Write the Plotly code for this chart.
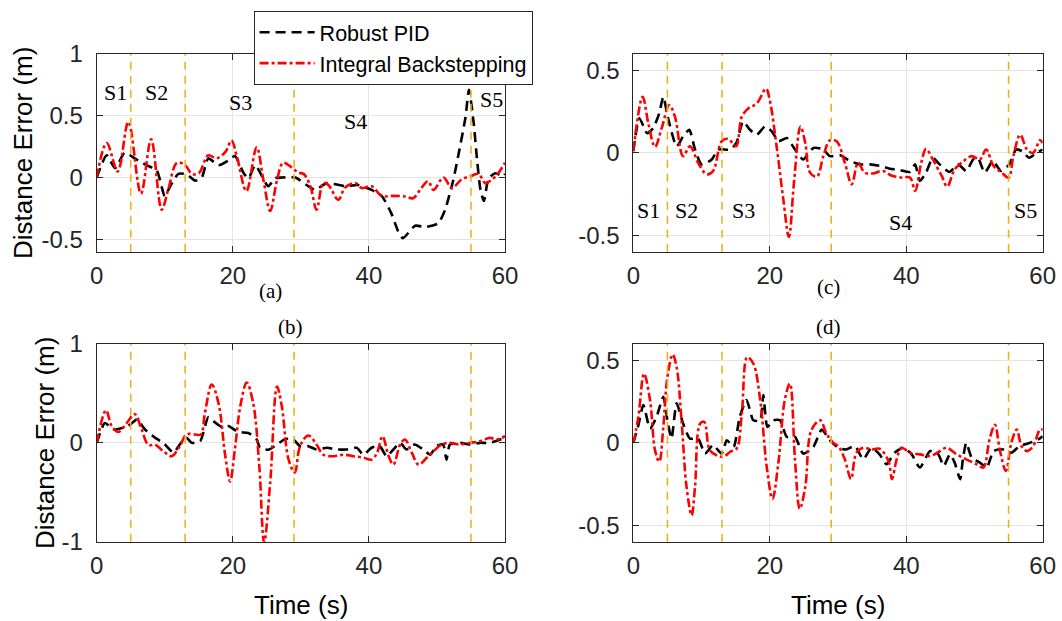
import plotly.graph_objects as go

# ---------------- data (time s, distance error m) ----------------
stage_bounds = [5, 13, 29, 55]
stage_names = ["S1", "S2", "S3", "S4", "S5"]

a_pid = [(0,0),(1.47,0.18),(2.7,0.075),(4.1,0.2),(5.6,0.155),(7.3,0.10),(8.8,0.06),(10.0,-0.15),(10.8,-0.07),(12.0,0.03),
         (13.2,0.027),(14.45,-0.025),(15.4,-0.005),(16.4,0.155),(17.9,0.10),(19.4,0.14),(20.3,0.175),(21.6,0.035),(22.3,-0.005),(23.3,0.10),
         (24.3,0.01),(25.2,-0.07),(26.2,-0.005),(27.2,0),(29.2,0),(31.1,-0.07),(32.1,-0.1),(33.8,-0.045),(36.5,-0.07),(38.4,-0.06),
         (40.4,-0.1),(41.9,-0.15),(43.3,-0.29),(44.3,-0.435),(45.0,-0.49),(46.8,-0.39),(48.3,-0.40),(50.2,-0.37),(51.2,-0.26),(52.4,-0.02),
         (53.2,0.196),(54.2,0.49),(54.7,0.71),(55.4,0.44),(55.9,0.14),(56.4,-0.1),(56.9,-0.19),(57.6,-0.005),(58.6,0.035),(59.8,0.01),(60,0.03)]
a_ibs = [(0,0),(1.47,0.28),(3.08,0.05),(4.65,0.45),(6.5,-0.13),(8.0,0.31),(9.55,-0.26),(10.5,-0.1),(11.8,0.12),(13.0,0.10),
         (14.0,0.03),(15.0,0.035),(16.4,0.18),(17.6,0.155),(18.95,0.21),(19.8,0.30),(20.6,0.17),(22.0,-0.11),(23.5,0.245),(24.5,-0.02),
         (25.5,-0.27),(26.5,-0.02),(27.4,0.12),(28.7,0.08),(29.6,0.04),(30.4,0.03),(31.4,-0.07),(32.3,-0.26),(33.3,-0.045),(34.05,-0.06),
         (35.5,-0.18),(36.5,-0.08),(38.0,-0.045),(38.95,-0.085),(40.4,-0.07),(41.9,-0.15),(43.3,-0.148),(45.3,-0.153),(46.5,-0.167),(47.7,-0.085),
         (48.7,-0.03),(49.5,-0.1),(50.95,0),(52.2,-0.085),(53.6,-0.015),(55.0,0.013),(56.1,0.03),(57.1,-0.045),(58.0,-0.02),(59.0,0.035),(60,0.12)]

b_pid = [(0,0),(1.2,0.2),(2.45,0.135),(3.7,0.15),(4.9,0.185),(5.9,0.235),(7.1,0.135),(8.6,0.05),(9.8,0),(11.3,-0.10),
         (12.2,-0.017),(13.2,0.05),(13.96,0),(15.2,0.017),(16.4,0.26),(17.15,0.22),(18.4,0.16),(19.35,0.17),(20.8,0.11),(22.3,0.10),
         (23.5,0.035),(24.0,-0.05),(25.2,-0.07),(26.5,-0.017),(27.7,0.04),(28.9,0.035),(29.9,-0.035),(31.1,-0.034),(32.3,-0.067),(33.8,-0.05),
         (35.3,-0.067),(36.7,-0.067),(38.2,-0.05),(39.2,-0.12),(40.4,-0.05),(41.6,-0.034),(42.6,-0.135),(43.6,-0.067),(44.6,0),(45.5,-0.067),
         (46.7,-0.017),(48.0,-0.067),(49.0,-0.12),(49.9,-0.034),(50.9,-0.017),(51.4,-0.17),(51.9,-0.017),(53.4,0),(54.9,-0.017),(56.3,0),
         (57.8,0),(59.3,0.034),(60,0.05)]
b_ibs = [(0,0),(1.37,0.33),(2.2,0.17),(3.2,0.11),(4.4,0.2),(5.6,0.29),(6.6,0.135),(7.6,-0.02),(8.6,-0.02),(9.8,-0.085),
         (11.0,-0.135),(12.2,-0.035),(13.2,0.085),(14.45,0.085),(15.3,0.085),(15.9,0.30),(16.9,0.59),(17.9,0.40),(18.9,-0.135),(19.6,-0.39),
         (20.3,-0.07),(21.1,0.37),(22.05,0.61),(23.0,0.40),(23.9,-0.24),(24.6,-1.01),(25.5,-0.40),(26.5,0.57),(27.2,0.37),(28.2,-0.17),
         (29.1,-0.30),(29.9,-0.03),(31.1,0.075),(32.3,-0.017),(33.3,-0.12),(34.8,-0.135),(36.3,-0.12),(37.7,-0.135),(39.2,-0.15),(40.4,-0.17),
         (41.2,-0.10),(42.0,0.067),(42.9,-0.135),(43.6,-0.22),(44.6,-0.017),(45.3,0.034),(46.3,-0.10),(47.3,-0.22),(48.5,-0.15),(49.5,-0.084),
         (50.7,-0.017),(51.9,0),(53.4,-0.017),(54.9,0),(56.3,0.017),(57.8,0.05),(58.8,0.034),(60,0.067)]

c_pid = [(0,0.01),(0.9,0.21),(2.0,0.12),(2.9,0.15),(3.8,0.24),(4.4,0.34),(5.1,0.21),(6.35,0.04),(7.3,0.10),(8.2,0.14),
         (9.05,0.02),(10.0,-0.07),(11.5,-0.04),(12.45,0.02),(14.2,0.02),(15.1,0.06),(16.1,0.19),(17.1,0.14),(18.1,0.11),(19.3,0.16),
         (20.3,0.13),(21.3,0.07),(22.5,0.09),(23.7,0.02),(24.9,-0.04),(26.4,0.03),(27.85,0.02),(28.8,-0.02),(30.3,-0.015),(31.8,-0.05),
         (33.2,-0.07),(34.7,-0.07),(36.2,-0.08),(37.6,-0.096),(39.1,-0.105),(40.55,-0.116),(41.3,-0.07),(42.0,-0.17),(42.9,-0.12),(43.9,-0.03),
         (44.9,-0.07),(46.3,-0.116),(47.6,-0.07),(48.8,-0.11),(49.8,-0.04),(50.5,-0.03),(51.5,-0.12),(52.7,-0.05),(53.9,-0.11),(55.1,-0.07),
         (56.1,0.02),(57.0,0.01),(58.0,-0.03),(59.1,0),(60,0.02)]
c_ibs = [(0,0.01),(1.37,0.34),(2.2,0.18),(3.18,0.036),(4.16,0.15),(5.28,0.29),(6.1,0.22),(7.3,-0.02),(8.3,0.04),(9.5,-0.06),
         (10.75,-0.13),(11.7,-0.11),(12.95,0.07),(13.9,0.085),(15.05,0.04),(15.9,0.22),(16.86,0.27),(18.1,0.30),(19.45,0.39),(20.0,0.32),
         (21.0,0.04),(21.98,-0.28),(22.8,-0.51),(23.55,-0.18),(24.5,0.16),(25.2,0.06),(25.9,-0.12),(26.9,-0.145),(27.85,-0.02),(28.8,0.076),
         (29.8,0.07),(31.0,-0.06),(32.0,-0.19),(32.95,-0.06),(33.9,-0.12),(35.1,-0.125),(36.6,-0.11),(37.8,-0.137),(39.3,-0.15),(40.55,-0.15),
         (41.3,-0.23),(42.2,-0.06),(42.9,0.024),(43.9,-0.04),(45.2,-0.14),(46.0,-0.205),(47.1,-0.10),(48.4,-0.05),(49.6,-0.02),(50.8,-0.04),
         (51.7,0.02),(52.8,-0.08),(54.0,-0.12),(55.0,-0.15),(55.7,-0.02),(56.7,0.11),(57.7,0.02),(58.6,0),(59.6,0.076),(60,0.06)]

d_pid = [(0,0),(0.74,0.107),(1.47,0.23),(2.45,0.087),(3.4,0.157),(4.4,0.28),(5.0,0.137),(5.6,0.026),(6.35,0.24),(7.3,0.117),
         (8.3,0.026),(9.5,0.026),(10.5,-0.065),(11.7,-0.014),(12.95,-0.065),(13.7,0.016),(14.7,-0.024),(15.6,0.157),(16.6,0.26),(17.6,0.137),
         (18.6,0.137),(19.05,0.29),(19.65,0.097),(20.5,0.137),(21.5,0.137),(22.5,0.036),(23.7,0.036),(24.9,-0.065),(26.4,-0.024),(27.6,0.08),
         (28.8,0.016),(30.05,-0.03),(31.2,-0.04),(32.5,-0.02),(33.7,-0.10),(34.9,-0.03),(36.1,-0.07),(37.1,-0.13),(38.3,-0.06),(39.55,-0.03),
         (40.8,-0.07),(42.0,-0.15),(43.5,-0.05),(44.7,-0.07),(45.5,-0.14),(46.4,-0.07),(47.1,-0.12),(47.9,-0.22),(48.3,-0.10),(48.8,0),
         (49.6,-0.09),(50.8,-0.12),(51.8,-0.15),(52.8,-0.05),(54.2,-0.04),(55.4,-0.06),(56.6,-0.02),(58.1,0),(59.3,0.02),(60,0.04)]
d_ibs = [(0,0),(0.74,0.157),(1.57,0.42),(2.45,0.26),(3.18,-0.044),(3.8,-0.115),(4.4,0.097),(5.0,0.40),(5.77,0.536),(6.35,0.46),
         (7.1,0.117),(7.8,-0.266),(8.55,-0.44),(9.04,-0.27),(9.8,0.117),(10.4,0.127),(11.2,-0.044),(12.2,-0.075),(13.2,-0.085),(14.2,-0.054),
         (15.15,-0.034),(15.9,0.177),(16.7,0.52),(17.6,0.48),(18.6,0.26),(19.55,-0.145),(20.4,-0.34),(21.25,-0.125),(22.2,0.26),(22.95,0.36),
         (23.7,-0.105),(24.4,-0.40),(25.2,-0.27),(26.1,0.077),(27.4,0.137),(28.3,0.056),(29.3,0),(30.05,-0.02),(31.0,-0.10),(31.9,-0.22),
         (32.7,-0.06),(33.7,-0.03),(34.9,-0.04),(36.1,-0.036),(37.4,-0.11),(37.9,-0.22),(38.6,-0.10),(39.3,-0.03),(40.55,-0.06),(42.0,-0.07),
         (43.5,-0.08),(44.7,-0.056),(45.9,-0.03),(47.4,-0.07),(48.8,-0.10),(50.3,-0.13),(51.3,-0.15),(52.2,0.02),(53.0,0.11),(53.7,-0.04),
         (54.6,-0.17),(55.4,0),(56.2,0.08),(56.9,-0.02),(57.7,-0.05),(58.6,-0.02),(59.6,0.08),(60,0.08)]

x_ticks = [0, 20, 40, 60]

# ---------------- layout helpers ----------------
W, H = 1062, 621
SANS = "Liberation Sans, Arial, Helvetica, sans-serif"
SERIF = "Liberation Serif, Times New Roman, serif"
AXC = "#262626"

def px_x(p):
    return p / W

def px_y(p):
    return 1 - p / H

left_dom = [px_x(96.7), px_x(505)]
right_dom = [px_x(633.3), px_x(1042.7)]
top_dom = [px_y(251.7), px_y(54)]
bot_dom = [px_y(541.7), px_y(344)]

panels = [
    dict(n="", xd=left_dom, yd=top_dom, yr=[-0.6, 1], yt=[-0.5, 0, 0.5, 1], yl=["-0.5", "0", "0.5", "1"], pid=a_pid, ibs=a_ibs),
    dict(n="2", xd=right_dom, yd=top_dom, yr=[-0.6, 0.6], yt=[-0.5, 0, 0.5], yl=["-0.5", "0", "0.5"], pid=c_pid, ibs=c_ibs),
    dict(n="3", xd=left_dom, yd=bot_dom, yr=[-1, 1], yt=[-1, 0, 1], yl=["-1", "0", "1"], pid=b_pid, ibs=b_ibs),
    dict(n="4", xd=right_dom, yd=bot_dom, yr=[-0.6, 0.6], yt=[-0.5, 0, 0.5], yl=["-0.5", "0", "0.5"], pid=d_pid, ibs=d_ibs),
]

fig = go.Figure()
shapes = []
for i, p in enumerate(panels):
    xa, ya = "x" + p["n"], "y" + p["n"]
    t1, e1 = zip(*p["pid"])
    t2, e2 = zip(*p["ibs"])
    fig.add_trace(go.Scatter(x=t1, y=e1, xaxis=xa, yaxis=ya, mode="lines", name="Robust PID",
                             legendrank=1, showlegend=(i == 0),
                             line=dict(color="black", width=2.6, dash="10px,6px", shape="spline", smoothing=0.6)))
    fig.add_trace(go.Scatter(x=t2, y=e2, xaxis=xa, yaxis=ya, mode="lines", name="Integral Backstepping",
                             legendrank=2, showlegend=(i == 0),
                             line=dict(color="#ff0000", width=2.6, dash="9px,3px,3px,3px", shape="spline", smoothing=1.0)))
    for b in stage_bounds:
        shapes.append(dict(type="line", xref=xa, yref=ya + " domain", x0=b, x1=b, y0=0, y1=1,
                           line=dict(color="#EDB120", width=1.6, dash="8px,6px"), layer="above"))
    axcommon = dict(showline=True, linecolor=AXC, linewidth=1, mirror="allticks", ticks="inside", ticklen=6,
                    tickcolor=AXC, showgrid=True, gridcolor="#e4e4e4", gridwidth=1, zeroline=False,
                    automargin=False, tickfont=dict(family=SANS, size=24, color=AXC))
    fig.layout["xaxis" + p["n"]] = dict(axcommon, domain=p["xd"], range=[0, 60], tickvals=x_ticks,
                                        anchor=ya, ticklabelstandoff=2)
    fig.layout["yaxis" + p["n"]] = dict(axcommon, domain=p["yd"], range=p["yr"], tickvals=p["yt"],
                                        ticktext=p["yl"], anchor=xa, ticklabelstandoff=8)

annotations = []
# stage labels
a_lab_t = [2.7, 8.8, 21.1, 38.0, 58.0]
a_lab_e = [0.69, 0.69, 0.61, 0.45, 0.63]
c_lab_t = [2.2, 7.8, 16.1, 39.1, 57.5]
c_lab_e = [-0.35, -0.35, -0.35, -0.42, -0.35]
for nm, t, e in zip(stage_names, a_lab_t, a_lab_e):
    annotations.append(dict(x=t, y=e, xref="x", yref="y", text=nm, showarrow=False,
                            font=dict(family=SERIF, size=22, color="black")))
for nm, t, e in zip(stage_names, c_lab_t, c_lab_e):
    annotations.append(dict(x=t, y=e, xref="x2", yref="y2", text=nm, showarrow=False,
                            font=dict(family=SERIF, size=22, color="black")))

# panel letters
for txt, x, y in [("(a)", 270, 291), ("(c)", 828, 287), ("(b)", 290, 327), ("(d)", 828, 327)]:
    annotations.append(dict(x=px_x(x), y=px_y(y), xref="paper", yref="paper", text=txt, showarrow=False,
                            xanchor="center", yanchor="middle", font=dict(family=SERIF, size=21, color="black")))

# axis titles
for x, y in [(23, 153), (45, 443)]:
    annotations.append(dict(x=px_x(x), y=px_y(y), xref="paper", yref="paper", text="Distance Error (m)",
                            textangle=-90, showarrow=False, xanchor="center", yanchor="middle",
                            font=dict(family=SANS, size=26, color="black")))
for x in [301, 838]:
    annotations.append(dict(x=px_x(x), y=px_y(605), xref="paper", yref="paper", text="Time (s)",
                            showarrow=False, xanchor="center", yanchor="middle",
                            font=dict(family=SANS, size=26, color="black")))

fig.update_layout(
    template="none",
    width=W, height=H, margin=dict(l=0, r=0, t=0, b=0, pad=0, autoexpand=False),
    paper_bgcolor="white", plot_bgcolor="white",
    shapes=shapes, annotations=annotations,
    legend=dict(x=px_x(253.6), y=px_y(10.7), xanchor="left", yanchor="top",
                bgcolor="white", bordercolor=AXC, borderwidth=1,
                font=dict(family=SANS, size=21.5, color="black"), itemwidth=55,
                tracegroupgap=0),
    showlegend=True,
)

fig.write_html("out.html", config={"displayModeBar": False},
               post_script="document.body.style.margin='0px';document.body.style.overflow='hidden';")
